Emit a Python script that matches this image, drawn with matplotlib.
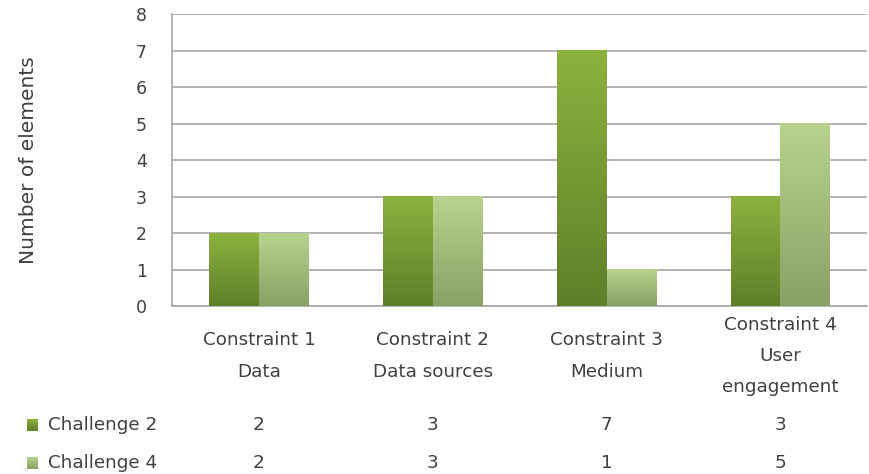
import numpy as np
import matplotlib
matplotlib.use("Agg")
import matplotlib.pyplot as plt
from matplotlib.colors import LinearSegmentedColormap
from matplotlib.patches import Rectangle
import matplotlib.transforms as mtransforms

plt.rcParams['font.family'] = ['DejaVu Sans']

# data
categories = ["Constraint 1\nData", "Constraint 2\nData sources",
              "Constraint 3\nMedium", "Constraint 4\nUser\nengagement"]
series_names = ["Challenge 2", "Challenge 4"]
challenge2 = [2, 3, 7, 3]
challenge4 = [2, 3, 1, 5]
yticks = [0, 1, 2, 3, 4, 5, 6, 7, 8]

# gradient colours (bottom, top) per series
grad_colors = [("#5e7f29", "#8cb23f"), ("#89a165", "#b8d38e")]
text_col = "#404040"
grid_col = "#a6a6a6"
fs = 13.2

fig = plt.figure(figsize=(8.69, 4.74), dpi=100)
ax = fig.add_axes([0.198, 0.3544, 0.800, 0.616])

x = np.arange(len(categories))
w = 0.285
values = [challenge2, challenge4]
grad = np.linspace(0, 1, 256).reshape(-1, 1)
cmaps = [LinearSegmentedColormap.from_list("g%d" % i, c) for i, c in enumerate(grad_colors)]
for i, vals in enumerate(values):
    bars = ax.bar(x + (i - 0.5) * w, vals, width=w, facecolor="none",
                  edgecolor="none", zorder=3)
    for b in bars:
        x0, h = b.get_x(), b.get_height()
        ax.imshow(grad, cmap=cmaps[i], origin="lower", aspect="auto",
                  extent=[x0, x0 + b.get_width(), 0, h], zorder=3)

ax.set_xlim(-0.5, len(categories) - 0.5)
ax.set_ylim(0, 8)
ax.set_yticks(yticks)
ax.set_xticks([])
ax.yaxis.grid(True, color=grid_col, linewidth=1.2)
ax.set_axisbelow(True)
for s in ["top", "right"]:
    ax.spines[s].set_visible(False)
for s in ["left", "bottom"]:
    ax.spines[s].set_color(grid_col)
    ax.spines[s].set_linewidth(1.2)
ax.tick_params(axis="y", length=0, pad=18, labelsize=12.5, labelcolor=text_col)
fig.text(28 / 869, 1 - 160 / 474, "Number of elements", rotation=90,
         ha="center", va="center", fontsize=14.5, color=text_col)

# category labels and data table
trans = mtransforms.blended_transform_factory(ax.transData, fig.transFigure)
for xi, cat in zip(x, categories):
    ax.text(xi, 1 - 356 / 474, cat, transform=trans, ha="center", va="center",
            fontsize=fs, color=text_col, linespacing=1.95)

row_y = [1 - 425 / 474, 1 - 463 / 474]
for r, (name, vals) in enumerate(zip(series_names, values)):
    # small gradient key square
    kax = fig.add_axes([27 / 869, row_y[r] - 6 / 474, 11 / 869, 12 / 474])
    kax.imshow(grad, cmap=cmaps[r], origin="lower", aspect="auto")
    kax.set_axis_off()
    fig.text(48 / 869, row_y[r], name, ha="left", va="center",
             fontsize=fs, color=text_col)
    for xi, v in zip(x, vals):
        ax.text(xi, row_y[r], str(v), transform=trans, ha="center", va="center",
                fontsize=fs, color=text_col)

fig.savefig("out.png", dpi=100)
